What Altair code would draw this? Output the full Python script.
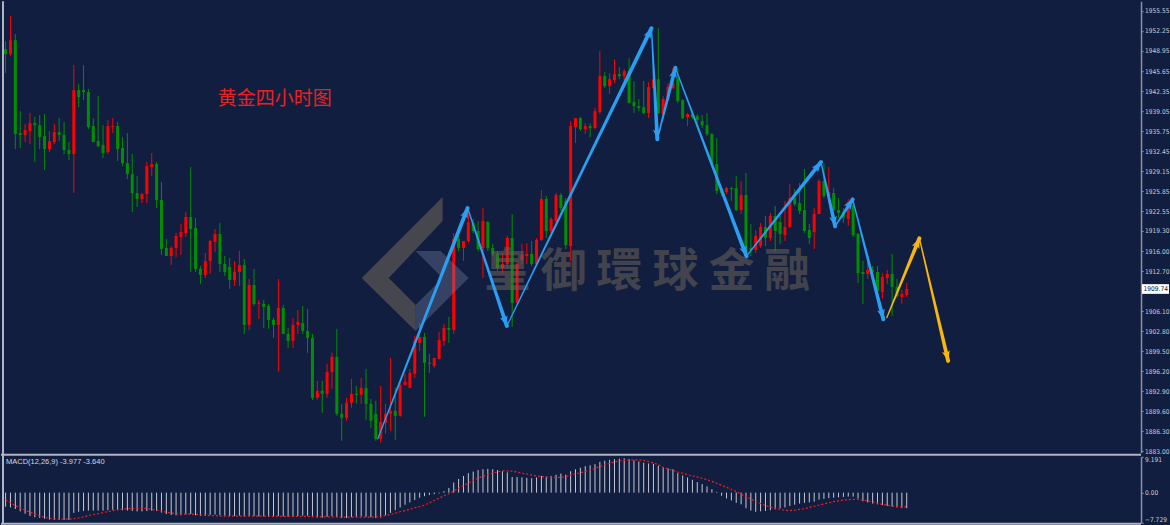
import math
import altair as alt
import pandas as pd

# ---------------- data ----------------
OPEN = [
 1949.25, 1948.43, 1950.73, 1935.43, 1935.10, 1935.75, 1937.07, 1936.74, 1934.93, 1932.79,
 1933.94, 1935.59, 1935.10, 1932.63, 1931.97, 1942.50, 1942.50, 1942.17, 1936.58, 1934.11,
 1933.45, 1932.30, 1936.41, 1936.58, 1932.96, 1930.49, 1928.68, 1925.55, 1924.56, 1925.39,
 1929.83, 1930.32, 1924.40, 1916.50, 1915.18, 1916.50, 1918.31, 1918.97, 1921.60, 1919.79,
 1913.04, 1912.06, 1914.36, 1917.49, 1918.80, 1913.87, 1913.37, 1911.23, 1912.55, 1913.70,
 1903.83, 1910.41, 1907.28, 1907.28, 1906.95, 1904.65, 1903.83, 1906.62, 1902.34, 1901.19,
 1903.83, 1904.16, 1902.84, 1901.69, 1891.81, 1892.96, 1892.47, 1896.09, 1898.56, 1889.18,
 1888.52, 1890.99, 1892.47, 1892.31, 1893.46, 1890.82, 1889.18, 1885.06, 1887.70, 1889.18,
 1889.67, 1888.85, 1893.95, 1893.46, 1895.76, 1900.86, 1901.85, 1897.57, 1897.08, 1898.23,
 1901.19, 1903.33, 1903.00, 1917.98, 1916.50, 1917.65, 1920.61, 1919.30, 1916.50, 1920.78,
 1916.50, 1915.51, 1913.21, 1913.87, 1918.14, 1907.45, 1914.52, 1915.18, 1915.51, 1913.87,
 1917.82, 1924.56, 1919.30, 1920.94, 1925.22, 1924.23, 1916.83, 1936.41, 1937.89, 1936.08,
 1936.58, 1936.25, 1938.88, 1944.81, 1943.16, 1944.15, 1945.14, 1944.81, 1945.63, 1940.53,
 1939.87, 1939.70, 1938.72, 1942.83, 1944.31, 1938.55, 1940.86, 1942.83, 1944.48, 1940.86,
 1938.06, 1938.55, 1938.22, 1937.40, 1936.74, 1935.26, 1930.32, 1925.88, 1925.72, 1926.37,
 1926.37, 1922.75, 1925.22, 1916.50, 1916.17, 1916.83, 1919.95, 1918.14, 1921.77, 1920.78,
 1918.64, 1919.95, 1924.73, 1923.90, 1922.75, 1919.46, 1919.13, 1922.09, 1927.53, 1925.06,
 1925.55, 1922.75, 1922.42, 1921.27, 1923.58, 1918.80, 1912.55, 1912.22, 1912.88, 1912.55,
 1909.26, 1911.56, 1912.22, 1910.08, 1908.43, 1908.76]

HIGH = [
 1950.57, 1954.68, 1951.72, 1939.05, 1936.91, 1938.72, 1938.06, 1938.39, 1938.55, 1935.75,
 1936.91, 1937.89, 1937.24, 1933.94, 1946.62, 1943.49, 1946.62, 1942.67, 1937.89, 1941.51,
 1936.74, 1937.56, 1937.89, 1937.24, 1934.77, 1935.43, 1931.97, 1928.35, 1925.55, 1930.65,
 1932.13, 1930.65, 1927.36, 1917.98, 1916.83, 1918.97, 1920.45, 1922.42, 1929.83, 1921.44,
 1913.54, 1915.68, 1917.82, 1919.63, 1920.61, 1915.18, 1914.85, 1914.36, 1916.00, 1914.69,
 1911.40, 1913.04, 1907.94, 1907.94, 1907.28, 1904.98, 1911.40, 1907.12, 1903.33, 1904.98,
 1906.29, 1906.95, 1906.46, 1902.34, 1894.61, 1894.61, 1897.41, 1899.22, 1903.17, 1890.82,
 1891.81, 1894.94, 1893.79, 1895.10, 1896.58, 1891.65, 1891.32, 1893.79, 1890.82, 1898.39,
 1893.46, 1894.61, 1895.76, 1896.58, 1902.02, 1904.16, 1902.51, 1899.05, 1898.39, 1902.67,
 1903.99, 1905.14, 1918.97, 1920.12, 1917.65, 1923.08, 1921.27, 1920.94, 1923.08, 1920.94,
 1917.16, 1916.00, 1915.68, 1918.47, 1922.09, 1914.36, 1917.16, 1917.32, 1917.65, 1918.14,
 1926.04, 1925.06, 1921.60, 1925.55, 1925.55, 1924.73, 1937.40, 1937.89, 1938.06, 1937.07,
 1937.07, 1939.54, 1948.92, 1945.46, 1945.30, 1947.60, 1946.29, 1945.96, 1947.77, 1943.98,
 1941.02, 1943.98, 1943.82, 1945.63, 1952.71, 1941.51, 1943.65, 1946.12, 1946.12, 1941.02,
 1938.72, 1938.72, 1938.55, 1938.39, 1938.72, 1935.43, 1934.60, 1926.21, 1926.54, 1926.54,
 1928.35, 1927.53, 1928.84, 1920.45, 1919.46, 1920.61, 1921.77, 1922.26, 1923.41, 1921.77,
 1924.23, 1927.03, 1926.21, 1927.20, 1929.50, 1920.45, 1923.08, 1927.85, 1930.49, 1929.83,
 1926.37, 1924.73, 1923.08, 1924.56, 1923.90, 1918.97, 1914.36, 1914.85, 1913.54, 1913.54,
 1912.38, 1912.88, 1915.51, 1911.40, 1909.59, 1910.74]

LOW = [
 1945.30, 1948.10, 1932.79, 1932.96, 1933.94, 1933.62, 1930.65, 1932.79, 1929.34, 1932.30,
 1933.62, 1934.11, 1931.97, 1930.98, 1925.55, 1939.70, 1940.86, 1936.08, 1933.94, 1933.12,
 1931.31, 1931.97, 1935.43, 1930.82, 1929.99, 1927.85, 1922.42, 1923.25, 1923.90, 1923.90,
 1928.35, 1923.08, 1915.35, 1915.18, 1913.70, 1915.02, 1915.35, 1918.31, 1912.55, 1912.55,
 1910.57, 1911.56, 1912.22, 1915.84, 1912.55, 1911.89, 1909.75, 1910.24, 1910.24, 1902.34,
 1903.00, 1906.95, 1904.81, 1903.33, 1903.17, 1901.69, 1896.09, 1902.34, 1900.04, 1900.04,
 1902.34, 1902.34, 1899.22, 1891.48, 1891.48, 1889.34, 1891.81, 1893.29, 1888.85, 1884.73,
 1888.03, 1890.17, 1890.82, 1890.82, 1888.19, 1886.87, 1884.73, 1884.41, 1885.89, 1886.38,
 1884.90, 1888.69, 1893.79, 1893.46, 1895.10, 1899.55, 1888.69, 1895.93, 1896.75, 1898.23,
 1900.37, 1900.86, 1902.34, 1916.00, 1914.36, 1917.32, 1918.97, 1916.00, 1911.56, 1916.00,
 1915.18, 1912.71, 1912.38, 1913.21, 1903.50, 1907.28, 1913.87, 1913.87, 1913.54, 1913.54,
 1917.65, 1918.14, 1918.97, 1920.61, 1922.59, 1916.33, 1914.36, 1933.78, 1935.75, 1935.26,
 1934.77, 1936.08, 1938.55, 1942.83, 1941.84, 1943.65, 1944.31, 1943.98, 1940.36, 1938.72,
 1939.05, 1938.55, 1937.89, 1942.67, 1938.55, 1938.55, 1940.69, 1942.67, 1940.36, 1937.73,
 1936.58, 1937.73, 1937.07, 1936.25, 1934.93, 1929.99, 1925.39, 1925.06, 1925.39, 1924.23,
 1922.59, 1922.09, 1915.51, 1915.18, 1915.68, 1916.50, 1916.83, 1917.65, 1916.00, 1917.16,
 1917.65, 1919.79, 1923.41, 1922.09, 1918.97, 1917.16, 1916.33, 1922.09, 1924.73, 1923.90,
 1921.77, 1921.44, 1920.61, 1920.12, 1918.31, 1910.74, 1907.28, 1911.40, 1911.89, 1908.93,
 1908.11, 1910.57, 1905.31, 1908.27, 1907.28, 1908.43]

CLOSE = [
 1948.43, 1950.73, 1935.26, 1935.10, 1935.92, 1937.07, 1936.74, 1934.77, 1932.79, 1934.11,
 1935.59, 1935.10, 1932.63, 1931.97, 1942.50, 1941.35, 1942.17, 1936.41, 1933.94, 1933.29,
 1932.13, 1936.58, 1936.58, 1932.79, 1930.49, 1928.68, 1925.55, 1924.56, 1925.39, 1929.99,
 1930.32, 1924.40, 1916.33, 1915.18, 1916.50, 1918.47, 1919.13, 1921.60, 1919.63, 1913.04,
 1912.06, 1914.36, 1917.65, 1918.80, 1913.87, 1912.55, 1911.23, 1912.55, 1913.70, 1903.83,
 1910.41, 1907.28, 1907.45, 1906.79, 1904.65, 1903.83, 1906.62, 1902.34, 1901.19, 1903.83,
 1904.32, 1902.84, 1901.69, 1891.81, 1892.96, 1892.47, 1896.09, 1898.56, 1889.18, 1888.52,
 1890.99, 1892.47, 1892.31, 1893.46, 1890.82, 1888.03, 1885.06, 1887.86, 1889.18, 1889.67,
 1888.85, 1893.95, 1894.45, 1895.93, 1901.19, 1901.85, 1897.57, 1897.41, 1898.39, 1901.36,
 1903.33, 1903.00, 1917.98, 1916.50, 1917.65, 1920.78, 1919.30, 1916.33, 1920.94, 1916.50,
 1915.51, 1913.21, 1913.87, 1918.14, 1907.45, 1913.87, 1915.35, 1915.51, 1913.87, 1917.82,
 1924.56, 1919.30, 1921.27, 1925.22, 1923.08, 1916.99, 1936.58, 1937.89, 1936.08, 1936.58,
 1936.25, 1939.05, 1944.81, 1943.16, 1944.31, 1945.14, 1944.81, 1945.63, 1940.36, 1939.87,
 1939.54, 1938.72, 1943.00, 1944.31, 1938.72, 1941.02, 1943.00, 1943.65, 1940.69, 1937.89,
 1938.55, 1938.06, 1937.56, 1936.74, 1935.26, 1930.32, 1925.88, 1925.55, 1926.37, 1926.21,
 1922.75, 1925.22, 1915.68, 1916.17, 1918.47, 1919.95, 1918.14, 1921.77, 1919.30, 1918.80,
 1919.95, 1924.73, 1923.74, 1922.59, 1919.30, 1918.14, 1922.09, 1927.53, 1925.06, 1925.72,
 1922.75, 1922.26, 1921.44, 1924.07, 1918.64, 1912.38, 1912.22, 1912.88, 1912.55, 1909.42,
 1911.73, 1912.22, 1910.08, 1908.60, 1908.93, 1909.74]

MACD_MAIN = [
 -3.6, -3.8, -4.2, -4.8, -5.4, -6.0, -6.3, -6.5, -6.7, -6.9,
 -7.0, -7.0, -7.0, -7.0, -5.2, -4.9, -4.7, -4.6, -4.6, -4.6,
 -4.6, -4.5, -4.4, -4.4, -4.5, -4.6, -4.7, -4.8, -4.8, -4.7,
 -4.6, -4.7, -5.1, -5.5, -5.7, -5.8, -5.8, -5.6, -5.5, -5.8,
 -6.0, -5.9, -5.7, -5.6, -5.8, -5.9, -6.0, -6.0, -5.9, -6.1,
 -6.0, -6.0, -6.1, -6.1, -6.2, -6.2, -6.0, -6.1, -6.2, -6.1,
 -6.0, -5.9, -5.9, -6.3, -6.4, -6.4, -6.2, -6.0, -6.3, -6.5,
 -6.5, -6.3, -6.2, -6.1, -6.2, -6.3, -6.5, -6.4, -5.8, -5.2,
 -4.5, -3.8, -3.1, -2.5, -1.9, -1.3, -0.9, -0.6, -0.4, -0.2,
 0.4, 1.2, 2.6, 3.5, 4.3, 5.0, 5.4, 5.8, 6.0, 6.1,
 6.0, 5.8, 5.5, 5.2, 4.0, 4.0, 3.9, 3.8, 3.7, 3.9,
 4.3, 4.1, 4.3, 4.6, 4.9, 4.6, 5.5, 6.0, 6.4, 6.8,
 7.0, 7.3, 7.9, 8.2, 8.4, 8.6, 8.7, 8.8, 8.6, 8.3,
 8.0, 7.7, 7.5, 7.4, 6.9, 6.5, 6.2, 6.0, 5.0, 4.4,
 3.9, 3.3, 2.7, 2.2, 1.6, 0.9, 0.2, -0.8, -1.5, -2.0,
 -2.6, -3.0, -4.0, -4.6, -4.9, -4.8, -4.7, -4.5, -4.3, -4.0,
 -3.8, -3.4, -3.1, -2.8, -2.6, -2.5, -2.3, -1.8, -1.6, -1.4,
 -1.3, -1.2, -1.1, -1.0, -1.0, -1.5, -2.2, -2.5, -2.8, -3.0,
 -3.2, -3.4, -3.6, -3.8, -3.9, -3.977]

MACD_SIGNAL = [
 -1.9, -2.6, -3.3, -3.9, -4.5, -5.0, -5.5, -6.0, -6.3, -6.6,
 -6.7, -6.8, -6.8, -6.8, -6.7, -6.5, -6.2, -5.9, -5.6, -5.4,
 -5.1, -4.9, -4.6, -4.4, -4.2, -4.1, -4.0, -4.0, -4.0, -4.1,
 -4.3, -4.5, -4.7, -5.0, -5.2, -5.4, -5.5, -5.5, -5.5, -5.6,
 -5.7, -5.8, -5.9, -5.9, -6.0, -6.0, -6.0, -6.0, -6.0, -6.0,
 -6.0, -6.0, -6.0, -6.0, -6.0, -6.1, -6.1, -6.1, -6.1, -6.1,
 -6.1, -6.1, -6.1, -6.1, -6.2, -6.2, -6.2, -6.2, -6.2, -6.3,
 -6.3, -6.3, -6.3, -6.3, -6.3, -6.3, -6.2, -6.1, -5.9, -5.6,
 -5.3, -4.9, -4.6, -4.3, -3.9, -3.6, -3.2, -2.6, -2.0, -1.4,
 -0.8, -0.3, 0.4, 1.1, 1.8, 2.5, 3.1, 3.7, 4.2, 4.6,
 5.0, 5.3, 5.6, 5.6, 5.5, 5.3, 5.0, 4.8, 4.5, 4.3,
 4.1, 4.0, 3.9, 3.9, 3.9, 4.1, 4.5, 4.8, 5.1, 5.4,
 5.8, 6.2, 6.7, 7.1, 7.5, 7.9, 8.1, 8.3, 8.4, 8.4,
 8.4, 8.3, 8.0, 7.6, 7.2, 6.5, 6.1, 5.7, 5.3, 5.0,
 4.6, 4.3, 4.0, 3.7, 3.3, 2.9, 2.4, 1.9, 1.4, 0.8,
 0.3, -0.4, -1.0, -1.6, -2.3, -2.8, -3.3, -3.7, -4.0, -4.3,
 -4.5, -4.6, -4.5, -4.3, -4.1, -3.8, -3.5, -3.2, -2.9, -2.6,
 -2.3, -2.1, -1.9, -1.8, -1.7, -1.7, -1.9, -2.1, -2.4, -2.7,
 -3.0, -3.2, -3.4, -3.5, -3.6, -3.64]

PRICE_TICKS = [1955.55, 1952.25, 1948.95, 1945.65, 1942.35, 1939.05, 1935.75, 1932.45,
               1929.15, 1925.85, 1922.55, 1919.30, 1916.00, 1912.70, 1906.10, 1902.80,
               1899.50, 1896.20, 1892.90, 1889.60, 1886.30, 1883.00]
MACD_TICKS = [9.191, 0.0, -7.729]

# zig-zag arrows (bar index, price)
BLUE_X = [76.4, 94.85, 102.9, 132.6, 133.8, 137.5, 152.1, 167.4, 170.3, 173.9, 180.2]
BLUE_Y = [1885.06, 1923.08, 1903.65, 1952.70, 1934.40, 1946.20, 1915.15, 1930.65, 1920.08, 1924.51, 1904.76]
YELLOW_X = [180.9, 187.6, 193.5]
YELLOW_Y = [1905.02, 1918.09, 1897.90]

TITLE = "黄金四小时图"
WATERMARK = ["皇", "御", "環", "球", "金", "融"]
MACD_LABEL = "MACD(12,26,9) -3.977 -3.640"

n = len(CLOSE)
assert len(OPEN) == n and len(HIGH) == n and len(LOW) == n
assert len(MACD_MAIN) == n and len(MACD_SIGNAL) == n

# ---------------- layout / style ----------------
W = 1141
H_MAIN = 452
H_MACD = 66
X_DOMAIN = [-0.944, 233.1]
Y_DOMAIN = [1882.75, 1957.15]
M_DOMAIN = [-7.729, 9.191]
BG = "#111e3f"
RED = "#ff0000"
GREEN = "#008f00"
BLUE = "#2a9ff2"
YELLOW = "#f7b70c"
AXIS_TXT = "#c9cdd8"
FRAME = "#b0b5c2"
NARROW = "Liberation Sans Narrow, DejaVu Sans Condensed, Arial Narrow, sans-serif"
CJK = "Noto Sans CJK SC"

xs = alt.Scale(domain=X_DOMAIN, nice=False, zero=False, padding=0)
ys = alt.Scale(domain=Y_DOMAIN, nice=False, zero=False, padding=0)
ms = alt.Scale(domain=M_DOMAIN, nice=False, zero=False, padding=0)

yaxis = alt.Axis(orient="right", values=PRICE_TICKS, format=".2f", title=None, grid=False,
                 labelFont=NARROW, labelFontSize=6.6, labelColor=AXIS_TXT, labelPadding=1.5,
                 tickColor="#9aa0b2", tickSize=2, tickWidth=1,
                 domainColor="#8a92a8", domainWidth=1.5, labelOverlap=False)
maxis = alt.Axis(orient="right", values=MACD_TICKS,
                 labelExpr="datum.value == 0 ? '0.00' : format(datum.value, '.3f')",
                 labelFlush=True, title=None, grid=False,
                 labelFont=NARROW, labelFontSize=6.6, labelColor=AXIS_TXT, labelPadding=1.5,
                 tickColor="#9aa0b2", tickSize=2, domainColor="#8a92a8", domainWidth=1.5,
                 labelOverlap=False)


def X(field):
    return alt.X(f"{field}:Q", scale=xs, axis=None)


cdf = pd.DataFrame({"i": list(range(n)), "o": OPEN, "h": HIGH, "l": LOW, "c": CLOSE})
cdf["col"] = [RED if c >= o else GREEN for o, c in zip(OPEN, CLOSE)]
cdf["blo"] = [min(o, c) for o, c in zip(OPEN, CLOSE)]
cdf["bhi"] = [max(max(o, c), min(o, c) + 0.18) for o, c in zip(OPEN, CLOSE)]

wicks = alt.Chart(cdf).mark_rule(strokeWidth=1).encode(
    x=X("i"), y=alt.Y("l:Q", scale=ys, axis=yaxis), y2="h:Q",
    color=alt.Color("col:N", scale=None))
bodies = alt.Chart(cdf).mark_bar(size=3).encode(
    x=X("i"), y=alt.Y("blo:Q", scale=ys, axis=yaxis), y2="bhi:Q",
    color=alt.Color("col:N", scale=None))

# arrows
PX_X = W / (X_DOMAIN[1] - X_DOMAIN[0])
PX_Y = H_MAIN / (Y_DOMAIN[1] - Y_DOMAIN[0])
trail_rows, head_rows = [], []


def add_path(px, py, col, name):
    for k in range(len(px) - 1):
        seg = f"{name}{k}"
        trail_rows.append(dict(seg=seg, ord=0, x=px[k], y=py[k], w=1.2, col=col))
        trail_rows.append(dict(seg=seg, ord=1, x=px[k + 1], y=py[k + 1], w=4.0, col=col))
        dxp = (px[k + 1] - px[k]) * PX_X
        dyp = -(py[k + 1] - py[k]) * PX_Y
        ang = math.degrees(math.atan2(dxp, -dyp)) % 360
        head_rows.append(dict(x=px[k + 1], y=py[k + 1], ang=ang, col=col))


add_path(BLUE_X, BLUE_Y, BLUE, "b")
add_path(YELLOW_X, YELLOW_Y, YELLOW, "y")
tdf = pd.DataFrame(trail_rows)
hdf = pd.DataFrame(head_rows)

trails = alt.Chart(tdf).mark_trail().encode(
    x=X("x"), y=alt.Y("y:Q", scale=ys, axis=yaxis),
    size=alt.Size("w:Q", scale=None, legend=None),
    detail="seg:N", order="ord:Q",
    color=alt.Color("col:N", scale=None))
HEAD_PATH = "M0,0 L0.8,2 L0,1.5 L-0.8,2 Z"
heads = alt.Chart(hdf).mark_point(shape=HEAD_PATH, size=100, filled=True, opacity=1,
                                  strokeWidth=0).encode(
    x=X("x"), y=alt.Y("y:Q", scale=ys, axis=yaxis),
    angle=alt.Angle("ang:Q", scale=None),
    color=alt.Color("col:N", scale=None))

one = pd.DataFrame({"a": [0]})

# watermark logo + text
LOGO_DARK = "M0.4,-0.957 L0.4,-0.614 L-0.371,0.2 L0.014,0.586 L0.014,0.957 L-0.757,0.2 Z"
LOGO_LIGHT = "M0.014,-0.186 L0.371,-0.186 L0.771,0.2 L0.014,0.957 L0.014,0.586 L0.4,0.2 Z"
logo_light = alt.Chart(one).mark_point(shape=LOGO_LIGHT, size=19600, filled=True,
                                       color="#7888aa", opacity=0.35, strokeWidth=0).encode(
    x=alt.value(414), y=alt.value(263))
logo_dark = alt.Chart(one).mark_point(shape=LOGO_DARK, size=19600, filled=True,
                                      color="#6a6258", opacity=0.6, strokeWidth=0).encode(
    x=alt.value(414), y=alt.value(263))
wm_layers = []
for k, ch in enumerate(WATERMARK):
    wm_layers.append(
        alt.Chart(pd.DataFrame({"t": [ch]})).mark_text(
            font=CJK, fontSize=46, fontWeight="bold", color="#6a6258", opacity=0.55,
            align="center", baseline="middle").encode(
            x=alt.value(507 + 56 * k), y=alt.value(271), text="t:N"))

title = alt.Chart(pd.DataFrame({"t": [TITLE]})).mark_text(
    font=CJK, fontSize=19, color="#e8231f", align="left", baseline="middle").encode(
    x=alt.value(217), y=alt.value(98), text="t:N")

# current price tag
last = CLOSE[-1]
tag_df = pd.DataFrame({"p": [last], "p1": [last - 0.8], "p2": [last + 0.8], "t": [f"{last:.2f}"]})
tag_rect = alt.Chart(tag_df).mark_rect(color="#ffffff").encode(
    x=alt.value(W + 1), x2=alt.value(W + 28),
    y=alt.Y("p1:Q", scale=ys, axis=yaxis), y2="p2:Q")
tag_text = alt.Chart(tag_df).mark_text(font=NARROW, fontSize=6.6, color="#0c1230",
                                       align="left", baseline="middle").encode(
    x=alt.value(W + 2.5), y=alt.Y("p:Q", scale=ys, axis=yaxis), text="t:N")

left_border = alt.Chart(one).mark_rule(color=FRAME, strokeWidth=2).encode(
    x=alt.value(2), y=alt.value(0), y2=alt.value(H_MAIN + 2))

main = alt.layer(
    wicks, bodies, logo_light, logo_dark, *wm_layers, trails, heads, title,
    tag_rect, tag_text, left_border
).properties(width=W, height=H_MAIN)

# MACD panel
mdf = pd.DataFrame({"i": list(range(n)), "m": MACD_MAIN, "s": MACD_SIGNAL, "z": [0.0] * n})
hist = alt.Chart(mdf).mark_rule(strokeWidth=1, color="#c4c8d2").encode(
    x=X("i"), y=alt.Y("z:Q", scale=ms, axis=maxis), y2="m:Q")
sig = alt.Chart(mdf).mark_line(color="#ff1a1a", strokeWidth=1.2, strokeDash=[2, 2]).encode(
    x=X("i"), y=alt.Y("s:Q", scale=ms, axis=maxis))
mlabel = alt.Chart(pd.DataFrame({"t": [MACD_LABEL]})).mark_text(
    font="Liberation Sans, Arial, sans-serif", fontSize=7.5, color="#d4d8e2",
    align="left", baseline="middle").encode(x=alt.value(5), y=alt.value(5), text="t:N")
sep = alt.Chart(one).mark_rule(color=FRAME, strokeWidth=2).encode(
    x=alt.value(0), x2=alt.value(W), y=alt.value(-2))
bottom = alt.Chart(one).mark_rule(color=FRAME, strokeWidth=2).encode(
    x=alt.value(0), x2=alt.value(W), y=alt.value(H_MACD + 1))
left2 = alt.Chart(one).mark_rule(color=FRAME, strokeWidth=2).encode(
    x=alt.value(2), y=alt.value(-2), y2=alt.value(H_MACD + 1))

macd = alt.layer(hist, sig, mlabel, sep, bottom, left2).properties(width=W, height=H_MACD)

chart = alt.vconcat(main, macd, spacing=4).properties(
    background=BG,
    padding={"left": 0, "top": 0, "right": 0, "bottom": 0},
    bounds="flush",
).configure_view(stroke=None)

chart.save("out.html", embed_options={"renderer": "svg", "actions": False})
